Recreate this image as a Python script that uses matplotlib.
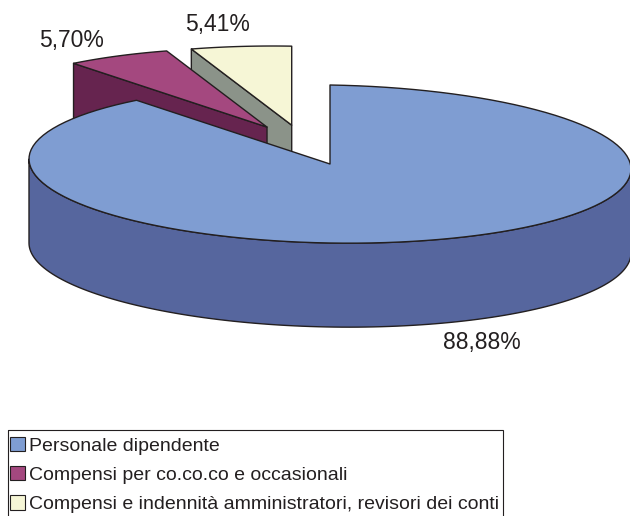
import numpy as np
import matplotlib
matplotlib.use('Agg')
import matplotlib.pyplot as plt
from matplotlib.patches import Polygon, Patch, Rectangle

plt.rcParams['font.family'] = ['Liberation Sans', 'DejaVu Sans']

# dati
labels = ['Personale dipendente',
          'Compensi per co.co.co e occasionali',
          'Compensi e indennità amministratori, revisori dei conti']
values = [88.88, 5.70, 5.41]
value_labels = ['88,88%', '5,70%', '5,41%']
explode = [0.0, 0.5, 0.5]
top_colors = ['#7F9DD2', '#A4487F', '#F6F6D6']
side_colors = ['#56669E', '#66244F', '#8B9389']
edge = '#231F20'

# geometria della torta 3D (pixel)
CX, CY = 330, 164
RX, RY = 301, 79
SH = 5
DEPTH = 84


def proj(u, v, z=0.0):
    x = CX + RX * np.asarray(u)
    y = CY + SH * np.asarray(u) - RY * np.asarray(v) + DEPTH * z
    return x, y


def arc(t1, t2, ox, oy, z):
    t = np.radians(np.linspace(t1, t2, 120))
    return proj(ox + np.cos(t), oy + np.sin(t), z)


def poly(ax, xs, ys, color):
    ax.add_patch(Polygon(np.column_stack([xs, ys]), closed=True,
                         facecolor=color, edgecolor=edge, lw=1.0,
                         joinstyle='round'))


# angoli: partenza da ore 12, senso orario
total = sum(values)
wedges = []
start = 90.0
for val in values:
    t2 = start
    t1 = start - 360.0 * val / total
    wedges.append((t1, t2))
    start = t1

# direzione di esplosione: a metà tra la bisettrice della fetta
# e il centro del gruppo di fette staccate
exp_idx = [i for i, e in enumerate(explode) if e > 0]
group_mid = np.mean([(wedges[i][0] + wedges[i][1]) / 2 for i in exp_idx])

fig = plt.figure(figsize=(6.3, 5.16), dpi=100)
ax = fig.add_axes([0, 0, 1, 1])
ax.set_xlim(0, 630)
ax.set_ylim(516, 0)
ax.axis('off')

# disegno dal fondo verso il davanti
for i in [2, 1, 0]:
    t1, t2 = wedges[i]
    mid = np.radians(((t1 + t2) / 2 + group_mid) / 2)
    ox, oy = explode[i] * np.cos(mid), explode[i] * np.sin(mid)
    # facce radiali
    for t, vis in [(t1, np.cos(np.radians(t1)) > 1e-6),
                   (t2, np.cos(np.radians(t2)) < -1e-6)]:
        if vis:
            eu, ev = ox + np.cos(np.radians(t)), oy + np.sin(np.radians(t))
            xa, ya = proj([ox, eu, eu, ox], [oy, ev, ev, oy], 0)
            ya = ya + DEPTH * np.array([0, 0, 1, 1])
            poly(ax, xa, ya, side_colors[i])
    # bordo esterno frontale
    for k in (-1, 0, 1):
        lo, hi = max(t1, -180 + 360 * k), min(t2, 360 * k)
        if lo < hi:
            xt, yt = arc(lo, hi, ox, oy, 0)
            xb, yb = arc(lo, hi, ox, oy, 1)
            poly(ax, np.r_[xt, xb[::-1]], np.r_[yt, yb[::-1]], side_colors[i])
    # faccia superiore
    xa, ya = arc(t1, t2, ox, oy, 0)
    x0, y0 = proj(ox, oy, 0)
    poly(ax, np.r_[x0, xa], np.r_[y0, ya], top_colors[i])

# etichette percentuali
label_pos = [(482, 342), (72, 40), (218, 25)]
for txt, (lx, ly) in zip(value_labels, label_pos):
    ax.text(lx, ly, txt, fontsize=16.5, color='#231F20',
            ha='center', va='center')

# legenda (cornice disegnata a parte, tagliata in basso come nell'originale)
ax.add_patch(Rectangle((8, 430), 495, 100, facecolor='none',
                       edgecolor=edge, lw=0.8))
handles = [Patch(facecolor=c, edgecolor=edge, lw=0.8) for c in top_colors]
leg = fig.legend(handles, labels, loc='upper left',
                 bbox_to_anchor=(8 / 630, 1 - 435 / 516),
                 borderaxespad=0, fontsize=14, frameon=False,
                 handlelength=0.75, handleheight=0.75,
                 handletextpad=0.25, borderpad=0.1, labelspacing=0.58)
for t in leg.get_texts():
    t.set_color('#231F20')

fig.savefig('out.png', dpi=100)
